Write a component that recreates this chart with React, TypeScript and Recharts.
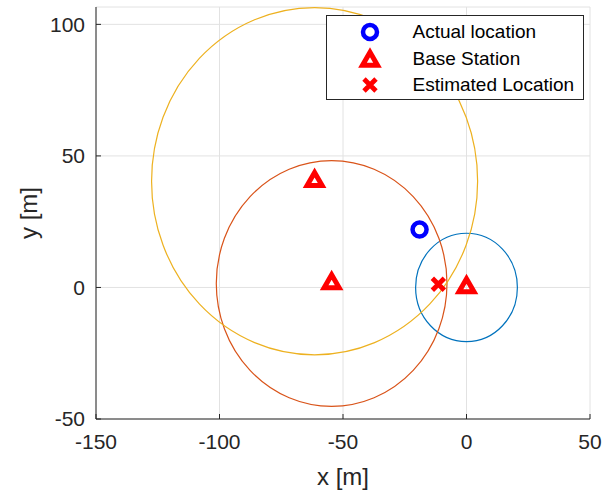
import React from "react";
import { ScatterChart, Scatter, XAxis, YAxis, CartesianGrid, ReferenceArea } from "recharts";

// axis setup
const xTicks = [-150, -100, -50, 0, 50];
const yTicks = [-50, 0, 50, 100];
const xDomain = [-150, 50];
const yDomain = [-50, 106.6];

// positions in metres
const actualLocation = [{ x: -19, y: 22 }];
const baseStations = [
  { x: 0, y: 0 },
  { x: -54.6, y: 1.5 },
  { x: -61.5, y: 40.4 },
];
const estimatedLocation = [{ x: -11.4, y: 1.2 }];

// measured range around each base station
const rangeRadii = [20.6, 46.7, 66];
const rangeColors = ["#0072BD", "#D95319", "#EDB120"];

const legendLabels = ["Actual location", "Base Station", "Estimated Location"];

const FONT = "'Liberation Sans', Arial, Helvetica, sans-serif";
const INK = "#262626";

const Ring = ({ cx, cy }: any) => (
  <circle cx={cx} cy={cy} r={7} fill="none" stroke="#0000FF" strokeWidth={4.5} />
);

const Tri = ({ cx, cy }: any) => (
  <path
    d={`M${cx},${cy - 8.7} L${cx + 7.5},${cy + 4.3} L${cx - 7.5},${cy + 4.3} Z`}
    fill="none"
    stroke="#FF0000"
    strokeWidth={5}
    strokeLinejoin="miter"
  />
);

const Cross = ({ cx, cy }: any) => (
  <path
    d={`M${cx - 6},${cy - 6} L${cx + 6},${cy + 6} M${cx - 6},${cy + 6} L${cx + 6},${cy - 6}`}
    stroke="#FF0000"
    strokeWidth={4.8}
    fill="none"
  />
);

const rangeShape = (color: string) => (p: any) => (
  <ellipse
    cx={p.x + p.width / 2}
    cy={p.y + p.height / 2}
    rx={Math.abs(p.width) / 2}
    ry={Math.abs(p.height) / 2}
    fill="none"
    stroke={color}
    strokeWidth={1.2}
  />
);

const legendMarkers = [Ring, Tri, Cross];

export default function App() {
  const tickStyle = { fontSize: 21, fill: INK, fontFamily: FONT };

  return (
    <div style={{ position: "absolute", left: 0, top: 0, width: 614, height: 491, background: "#fff" }}>
      <ScatterChart width={614} height={491} margin={{ top: 7, right: 24, bottom: 0, left: 0 }}>
        <CartesianGrid stroke="#e2e2e2" />
        <XAxis
          type="number"
          dataKey="x"
          domain={xDomain}
          ticks={xTicks}
          height={72}
          tickSize={-5}
          tickMargin={20}
          tick={tickStyle}
          stroke={INK}
          axisLine={{ stroke: INK }}
          tickLine={{ stroke: INK }}
          label={{
            content: ({ viewBox }: any) => (
              <text
                x={viewBox.x + viewBox.width / 2}
                y={viewBox.y + 57}
                textAnchor="middle"
                dominantBaseline="central"
                fontSize={24}
                fontFamily={FONT}
                fill={INK}
              >
                x [m]
              </text>
            ),
          }}
        />
        <XAxis
          xAxisId="top"
          orientation="top"
          type="number"
          domain={xDomain}
          ticks={xTicks}
          height={0}
          tick={false}
          tickSize={-5}
          axisLine={{ stroke: INK }}
          tickLine={{ stroke: INK }}
        />
        <YAxis
          type="number"
          dataKey="y"
          domain={yDomain}
          ticks={yTicks}
          width={96}
          tickSize={-5}
          tickMargin={16}
          tick={tickStyle}
          stroke={INK}
          axisLine={{ stroke: INK }}
          tickLine={{ stroke: INK }}
          label={{
            content: ({ viewBox }: any) => {
              const x = viewBox.x + 28.5;
              const y = viewBox.y + viewBox.height / 2;
              return (
                <text
                  x={x}
                  y={y}
                  transform={`rotate(-90, ${x}, ${y})`}
                  textAnchor="middle"
                  dominantBaseline="central"
                  fontSize={24}
                  fontFamily={FONT}
                  fill={INK}
                >
                  y [m]
                </text>
              );
            },
          }}
        />
        <YAxis
          yAxisId="right"
          orientation="right"
          type="number"
          domain={yDomain}
          ticks={yTicks}
          width={0}
          tick={false}
          tickSize={-5}
          axisLine={{ stroke: INK }}
          tickLine={{ stroke: INK }}
        />
        <Scatter name={legendLabels[0]} data={actualLocation} shape={Ring} isAnimationActive={false} />
        <Scatter name={legendLabels[1]} data={baseStations} shape={Tri} isAnimationActive={false} />
        <Scatter name={legendLabels[2]} data={estimatedLocation} shape={Cross} isAnimationActive={false} />
        {baseStations.map((s, i) => (
          <ReferenceArea
            key={i}
            x1={s.x - rangeRadii[i]}
            x2={s.x + rangeRadii[i]}
            y1={s.y - rangeRadii[i]}
            y2={s.y + rangeRadii[i]}
            ifOverflow="visible"
            shape={rangeShape(rangeColors[i])}
          />
        ))}
      </ScatterChart>

      <div
        style={{
          position: "absolute",
          left: 325.5,
          top: 15,
          width: 258,
          height: 85,
          boxSizing: "border-box",
          border: `1px solid ${INK}`,
          background: "#fff",
          fontFamily: FONT,
          fontSize: 19,
          color: "#000",
        }}
      >
        {legendLabels.map((label, i) => {
          const Marker = legendMarkers[i];
          return (
            <div
              key={label}
              style={{ position: "absolute", left: 0, top: 3 + i * 26.5, height: 26, width: "100%" }}
            >
              <svg width={40} height={26} style={{ position: "absolute", left: 23, top: 0 }}>
                <Marker cx={20} cy={i === 1 ? 15 : 13} />
              </svg>
              <span style={{ position: "absolute", left: 86, top: 0, lineHeight: "26px", whiteSpace: "nowrap" }}>
                {label}
              </span>
            </div>
          );
        })}
      </div>
    </div>
  );
}
